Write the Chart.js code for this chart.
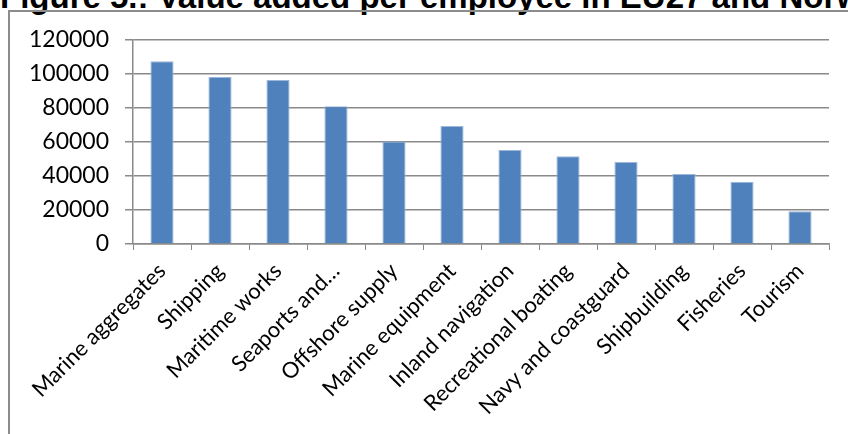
<!DOCTYPE html>
<html>
<head>
<meta charset="utf-8">
<script src="https://cdn.jsdelivr.net/npm/chart.js@4.4.0/dist/chart.umd.min.js"></script>
<style>
  html, body { margin: 0; padding: 0; background: #fff; overflow: hidden; }
  #wrap { position: relative; width: 848px; height: 434px; overflow: hidden; }
  #title { position: absolute; left: 0; top: -20px; font: bold 33px "Liberation Sans", Arial, sans-serif; line-height: 33px; white-space: nowrap; color: #000; }
  #frame { position: absolute; left: 8px; top: 10px; width: 900px; height: 500px; border: 2px solid #8c8c8c; }
  #c { position: absolute; left: 0; top: 0; }
</style>
</head>
<body>
<div id="wrap">
  <div id="title">Figure 5.: Value added per employee in EU27 and Norway</div>
  <div id="frame"></div>
  <canvas id="c" width="848" height="434"></canvas>
</div>
<script>
var sectors = ["Marine aggregates", "Shipping", "Maritime works", "Seaports and\u2026", "Offshore supply", "Marine equipment",
               "Inland navigation", "Recreational boating", "Navy and coastguard", "Shipbuilding", "Fisheries", "Tourism"];
var valueAdded = [107500, 98200, 96500, 81000, 60300, 69400, 55300, 51600, 48200, 41200, 36600, 19200];
var yTicks = [0, 20000, 40000, 60000, 80000, 100000, 120000];

var gridGrey = "#8a8a8a";

var ctx = document.getElementById("c").getContext("2d");
var chart = new Chart(ctx, {
    type: "bar",
    data: {
        labels: sectors,
        datasets: [{
            data: valueAdded,
            backgroundColor: "#4F81BD",
            borderColor: "#9db7da",
            borderWidth: 1,
            barPercentage: 0.4,
            categoryPercentage: 1
        }]
    },
    options: {
        responsive: false,
        animation: false,
        events: [],
        layout: { padding: { left: 0, top: 40, right: 19, bottom: 0 } },
        plugins: { legend: { display: false }, tooltip: { enabled: false } },
        scales: {
            x: {
                grid: { offset: true, drawOnChartArea: false, color: gridGrey, tickLength: 6, lineWidth: 1 },
                border: { color: gridGrey, width: 1.5 },
                ticks: { maxRotation: 45, minRotation: 45, padding: 8, color: "#000",
                         font: { family: "Lato", size: 22 } },
                afterFit: function (s) { s.height = 190; }
            },
            y: {
                min: 0, max: 120000,
                afterBuildTicks: function (s) { s.ticks = yTicks.map(function (v) { return { value: v }; }); },
                grid: { color: gridGrey, tickLength: 8, lineWidth: 1.5 },
                border: { color: gridGrey, width: 1.5 },
                ticks: { padding: 16, color: "#000", font: { family: "Lato", size: 23 },
                         callback: function (v) { return String(v); } },
                afterFit: function (s) { s.width = 133; }
            }
        }
    }
});
</script>
</body>
</html>
